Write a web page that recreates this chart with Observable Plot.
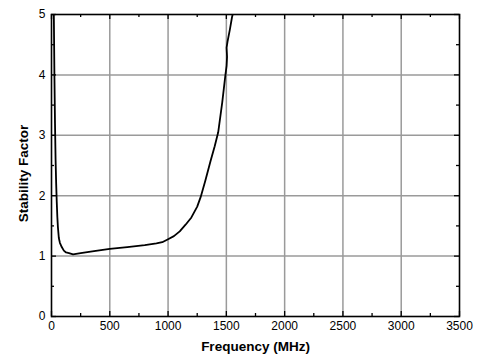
<!DOCTYPE html>
<html>
<head>
<meta charset="utf-8">
<script src="https://cdn.jsdelivr.net/npm/d3@7"></script>
<script src="https://cdn.jsdelivr.net/npm/@observablehq/plot@0.6"></script>
<style>
  html, body { margin: 0; padding: 0; background: #fff; }
</style>
</head>
<body>
<div id="chart"></div>
<script>
// Frequency (MHz)
const freq = [20, 25, 30, 35, 40, 45, 50, 55, 63, 72, 88, 106, 125, 150, 185, 250, 350, 500, 650, 800, 900, 950, 1000, 1050, 1100, 1150, 1200, 1250, 1280, 1320, 1365, 1400, 1430, 1465, 1492, 1502, 1506, 1502, 1510, 1530, 1548, 1560];
// Stability factor
const stability = [5.0, 4.0, 3.2, 2.6, 2.2, 1.9, 1.65, 1.48, 1.3, 1.22, 1.15, 1.09, 1.06, 1.05, 1.03, 1.05, 1.08, 1.12, 1.15, 1.18, 1.21, 1.23, 1.28, 1.33, 1.41, 1.52, 1.64, 1.82, 1.98, 2.25, 2.58, 2.82, 3.05, 3.55, 4.0, 4.15, 4.3, 4.45, 4.55, 4.75, 4.95, 5.05];

const xMajor = [0, 500, 1000, 1500, 2000, 2500, 3000, 3500];
const xMinor = [250, 750, 1250, 1750, 2250, 2750, 3250];
const yMajor = [0, 1, 2, 3, 4, 5];
const yMinor = [0.5, 1.5, 2.5, 3.5, 4.5];
const xLabel = "Frequency (MHz)";
const yLabel = "Stability Factor";

const data = freq.map((f, i) => ({f, k: stability[i]}));

const W = 481, H = 359, ML = 51, MR = 22, MT = 14, MB = 43;
const fw = W - ML - MR, fh = H - MT - MB;
const tickStyle = {stroke: "#000", strokeWidth: 1.3};

const chart = Plot.plot({
  width: W,
  height: H,
  marginLeft: ML,
  marginRight: MR,
  marginTop: MT,
  marginBottom: MB,
  style: {fontFamily: "'Liberation Sans', Arial, sans-serif", fontSize: "12px", color: "#000", background: "#fff"},
  x: {domain: [0, 3500], axis: null},
  y: {domain: [0, 5], axis: null},
  marks: [
    Plot.gridX(xMajor.slice(1, -1), {stroke: "#9a9a9a", strokeOpacity: 1, strokeWidth: 1.5}),
    Plot.gridY(yMajor.slice(1, -1), {stroke: "#9a9a9a", strokeOpacity: 1, strokeWidth: 1.5}),
    Plot.line(data, {x: "f", y: "k", stroke: "#000", strokeWidth: 1.8, clip: true}),
    // inner ticks
    Plot.tickX(xMajor, {x: d => d, insetTop: fh - 5, ...tickStyle}),
    Plot.tickX(xMinor, {x: d => d, insetTop: fh - 3, ...tickStyle}),
    Plot.tickX(xMajor, {x: d => d, insetBottom: fh - 5, ...tickStyle}),
    Plot.tickX(xMinor, {x: d => d, insetBottom: fh - 3, ...tickStyle}),
    Plot.tickY(yMajor, {y: d => d, insetRight: fw - 5, ...tickStyle}),
    Plot.tickY(yMinor, {y: d => d, insetRight: fw - 3, ...tickStyle}),
    Plot.tickY(yMajor, {y: d => d, insetLeft: fw - 5, ...tickStyle}),
    Plot.tickY(yMinor, {y: d => d, insetLeft: fw - 3, ...tickStyle}),
    Plot.frame({stroke: "#000", strokeWidth: 1.6}),
    // labels
    Plot.axisX(xMajor, {anchor: "bottom", tickSize: 0, tickPadding: 5, label: null, tickFormat: d => String(d)}),
    Plot.axisY(yMajor, {anchor: "left", tickSize: 0, tickPadding: 6, label: null, tickFormat: d => String(d)}),
    Plot.text([xLabel], {frameAnchor: "bottom", dy: 34, fontWeight: "bold", fontSize: 13.5, text: d => d}),
    Plot.text([yLabel], {frameAnchor: "left", textAnchor: "middle", dx: -28, dy: 8, rotate: -90, fontWeight: "bold", fontSize: 13.5, text: d => d})
  ]
});
document.getElementById("chart").appendChild(chart);
</script>
</body>
</html>
